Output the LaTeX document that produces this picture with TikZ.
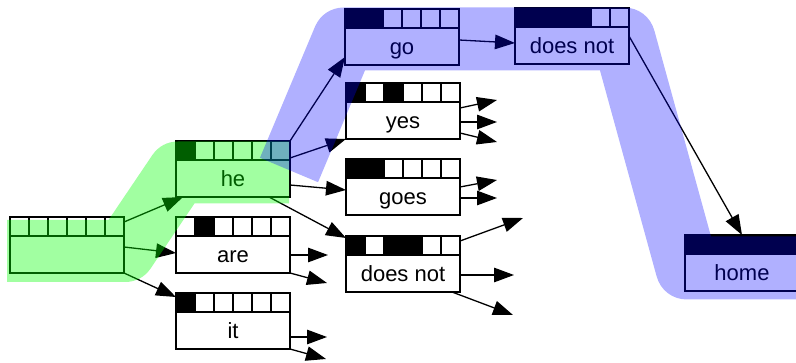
\documentclass[tikz,border=0pt]{standalone}
\usepackage{fontspec}
\setmainfont{Liberation Sans}
\usetikzlibrary{arrows.meta,calc}

% a hypothesis box: six coverage cells on top, the word below
\newcommand\wordbox[5]{% name, left, top, word, cell flags
  \node[box] (#1) at (#2+57,#3+28) {};
  \foreach \f [count=\i from 0] in {#5} {
    \ifnum\f=1 \def\cellfill{black}\else\def\cellfill{white}\fi
    \draw[cellbox, fill=\cellfill] ([xshift=\i*19pt]#1.north west)
      rectangle ([xshift=\i*19pt+19pt, yshift=-19pt]#1.north west);
  }
  \node[word] (#1-w) at ([yshift=10.5pt]#1.south) {#4};
}

\begin{document}
\begin{tikzpicture}[x=1pt,y=-1pt,
  box/.style={draw, fill=white, line width=1.4pt, minimum width=114pt,
    minimum height=56pt, inner sep=0pt, outer sep=0pt},
  cellbox/.style={draw, line width=1.4pt},
  word/.style={anchor=base, inner sep=0pt, font=\fontsize{22}{24}\selectfont},
  edge/.style={line width=1.3pt, -{Triangle[length=20pt,width=14.5pt]}},
  greenband/.style={line width=62pt, line join=round, draw=green, draw opacity=0.37},
  blueband/.style={line width=63pt, line join=round, draw=blue, draw opacity=0.31}]
\useasboundingbox (0,0) rectangle (796,363);
\clip (0,0) rectangle (796,363);

% hypotheses
\wordbox{root}{10}{217}{}{0,0,0,0,0,0}
\wordbox{he}{176}{141}{he}{1,0,0,0,0,0}
\wordbox{are}{176}{217}{are}{0,1,0,0,0,0}
\wordbox{it}{176}{293}{it}{1,0,0,0,0,0}
\wordbox{go}{345}{9}{go}{1,1,0,0,0,0}
\wordbox{yes}{346}{83}{yes}{1,0,1,0,0,0}
\wordbox{goes}{346}{159}{goes}{1,1,0,0,0,0}
\wordbox{dnmid}{346}{236}{does not}{1,0,1,1,0,0}
\wordbox{dntop}{515}{8}{does not}{1,1,1,1,0,0}
\wordbox{home}{685}{235}{home}{1,1,1,1,1,1}

% expansions
\draw[edge] ([yshift=23pt]root.east) -- ([xshift=7pt]he.south west);
\draw[edge] ([yshift=-2pt]root.east) -- ([yshift=-8pt]are.west);
\draw[edge] (root.south east) -- ([yshift=-4pt]it.north west);
\draw[edge] (he.north east) -- ([yshift=8pt]go.south west);
\draw[edge] ([yshift=11pt]he.east) -- (yes.south west);
\draw[edge] ([yshift=-16pt]he.east) -- ([yshift=-3pt]goes.west);
\draw[edge] ([xshift=-21pt]he.south east) -- ([yshift=-2pt]dnmid.north west);
\draw[edge] ([yshift=-3pt]go.east) -- ([yshift=-7pt]dntop.west);
\draw[edge] (dntop.east) -- (home.north);

% open ends
\coordinate (are-a) at (328,255);
\coordinate (are-b) at (327,283);
\coordinate (it-a) at (327,337);
\coordinate (it-b) at (326,359);
\coordinate (yes-a) at (497,100);
\coordinate (yes-b) at (497,122);
\coordinate (yes-c) at (497,142);
\coordinate (goes-a) at (497,180);
\coordinate (goes-b) at (497,198);
\coordinate (dn-a) at (523,218);
\coordinate (dn-b) at (514,275);
\coordinate (dn-c) at (513,315);

\draw[edge] ([yshift=-10pt]are.east) -- (are-a);
\draw[edge] (are.south east) -- (are-b);
\draw[edge] ([yshift=-16pt]it.east) -- (it-a);
\draw[edge] ([yshift=-28pt]it.east) -- (it-b);
\draw[edge] ([yshift=3pt]yes.east) -- (yes-a);
\draw[edge] ([yshift=-11pt]yes.east) -- (yes-b);
\draw[edge] ([yshift=-22pt]yes.east) -- (yes-c);
\draw[edge] (goes.east) -- (goes-a);
\draw[edge] ([yshift=-11pt]goes.east) -- (goes-b);
\draw[edge] ([yshift=23pt]dnmid.east) -- (dn-a);
\draw[edge] ([yshift=-11pt]dnmid.east) -- (dn-b);
\draw[edge] ([xshift=-8pt]dnmid.south east) -- (dn-c);

% highlighted search paths
\draw[greenband] (7,251) -- (125,251) -- (178,172.5) -- (289,172.5);
\draw[blueband] (289,170) -- (344,39) -- (624,39) -- (687,268) -- (830,268);
\end{tikzpicture}
\end{document}
